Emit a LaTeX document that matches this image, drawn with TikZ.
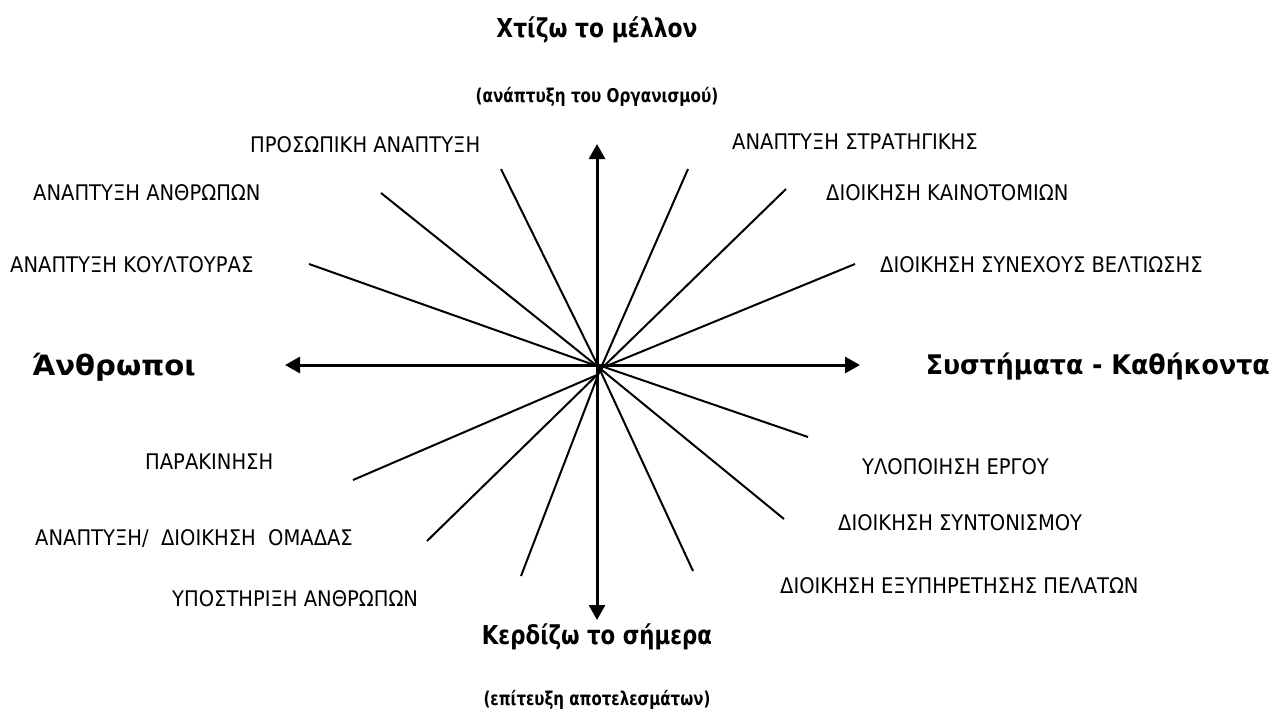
\documentclass[tikz,border=0pt]{standalone}
\usepackage{fontspec}
\setmainfont{DejaVu Sans}
\usetikzlibrary{arrows.meta}
% horizontally condensed text
\newcommand{\narrow}[2]{\scalebox{#1}[1]{#2}}
\begin{document}
\begin{tikzpicture}[x=1pt,y=-1pt,
  lbl/.style={inner sep=0pt, anchor=west, font=\fontsize{21.5}{24}\selectfont},
  ttl/.style={inner sep=0pt, font=\fontsize{26}{30}\selectfont\bfseries},
  sub/.style={inner sep=0pt, font=\fontsize{19}{22}\selectfont\bfseries},
  spoke/.style={line width=2pt},
  axis/.style={line width=3pt, -{Triangle[length=15pt,width=16pt]}}]
\useasboundingbox (0,0) rectangle (1279,713);

% axes
\coordinate (O) at (597,365);
\coordinate (N) at (597,144);
\coordinate (S) at (597,620);
\coordinate (W) at (285,365);
\coordinate (E) at (860,365);
\draw[axis] (O) -- (N);
\draw[axis] (O) -- (S);
\draw[axis] (O) -- (W);
\draw[axis] (O) -- (E);

% hubs where the spokes meet
\coordinate (hA) at (597,366);
\coordinate (hB) at (600,370);
\coordinate (hC) at (604,367);
\coordinate (hD) at (597,375);

% spoke ends
\coordinate (s1) at (501,169);
\coordinate (s2) at (381,193);
\coordinate (s3) at (309,264);
\coordinate (s4) at (688,169);
\coordinate (s5) at (786,189);
\coordinate (s6) at (855,264);
\coordinate (s7) at (808,437);
\coordinate (s8) at (784,519);
\coordinate (s9) at (693,571);
\coordinate (s10) at (353,480);
\coordinate (s11) at (427,541);
\coordinate (s12) at (521,576);

\draw[spoke] (s1) -- (hB);
\draw[spoke] (s2) -- (hA);
\draw[spoke] (s3) -- (hA);
\draw[spoke] (s4) -- (hB);
\draw[spoke] (s5) -- (hB);
\draw[spoke] (s6) -- (hC);
\draw[spoke] (s7) -- (hC);
\draw[spoke] (s8) -- (hA);
\draw[spoke] (s9) -- (hB);
\draw[spoke] (s10) -- (hD);
\draw[spoke] (s11) -- (hD);
\draw[spoke] (s12) -- (hB);

% titles
\node[ttl] (top) at (597,30) {\narrow{0.84}{Χτίζω το μέλλον}};
\node[sub] (topsub) at (597,97) {\narrow{0.80}{(ανάπτυξη του Οργανισμού)}};
\node[ttl, anchor=west, font=\fontsize{28}{32}\selectfont\bfseries] (left) at (32,367) {\narrow{1.04}{Άνθρωποι}};
\node[ttl, anchor=east, font=\fontsize{27}{31}\selectfont\bfseries] (right) at (1270,367) {\narrow{0.936}{Συστήματα - Καθήκοντα}};
\node[ttl] (bot) at (597,637) {\narrow{0.82}{Κερδίζω το σήμερα}};
\node[sub] (botsub) at (597,700) {\narrow{0.79}{(επίτευξη αποτελεσμάτων)}};

% labels
\node[lbl] (l1) at (250,145) {\narrow{0.908}{ΠΡΟΣΩΠΙΚΗ ΑΝΑΠΤΥΞΗ}};
\node[lbl] (l2) at (33,193) {\narrow{0.908}{ΑΝΑΠΤΥΞΗ ΑΝΘΡΩΠΩΝ}};
\node[lbl] (l3) at (10,265) {\narrow{0.908}{ΑΝΑΠΤΥΞΗ ΚΟΥΛΤΟΥΡΑΣ}};
\node[lbl] (l4) at (732,142) {\narrow{0.908}{ΑΝΑΠΤΥΞΗ ΣΤΡΑΤΗΓΙΚΗΣ}};
\node[lbl] (l5) at (826,193) {\narrow{0.908}{ΔΙΟΙΚΗΣΗ ΚΑΙΝΟΤΟΜΙΩΝ}};
\node[lbl] (l6) at (880,265) {\narrow{0.908}{ΔΙΟΙΚΗΣΗ ΣΥΝΕΧΟΥΣ ΒΕΛΤΙΩΣΗΣ}};
\node[lbl] (l7) at (862,467) {\narrow{0.908}{ΥΛΟΠΟΙΗΣΗ ΕΡΓΟΥ}};
\node[lbl] (l8) at (838,523) {\narrow{0.908}{ΔΙΟΙΚΗΣΗ ΣΥΝΤΟΝΙΣΜΟΥ}};
\node[lbl] (l9) at (780,586) {\narrow{0.908}{ΔΙΟΙΚΗΣΗ ΕΞΥΠΗΡΕΤΗΣΗΣ ΠΕΛΑΤΩΝ}};
\node[lbl] (l10) at (145,462) {\narrow{0.908}{ΠΑΡΑΚΙΝΗΣΗ}};
\node[lbl] (l11) at (35,539) {\narrow{0.908}{ΑΝΑΠΤΥΞΗ/\ \ ΔΙΟΙΚΗΣΗ\ \ ΟΜΑΔΑΣ}};
\node[lbl] (l12) at (172,599) {\narrow{0.908}{ΥΠΟΣΤΗΡΙΞΗ ΑΝΘΡΩΠΩΝ}};
\end{tikzpicture}
\end{document}
